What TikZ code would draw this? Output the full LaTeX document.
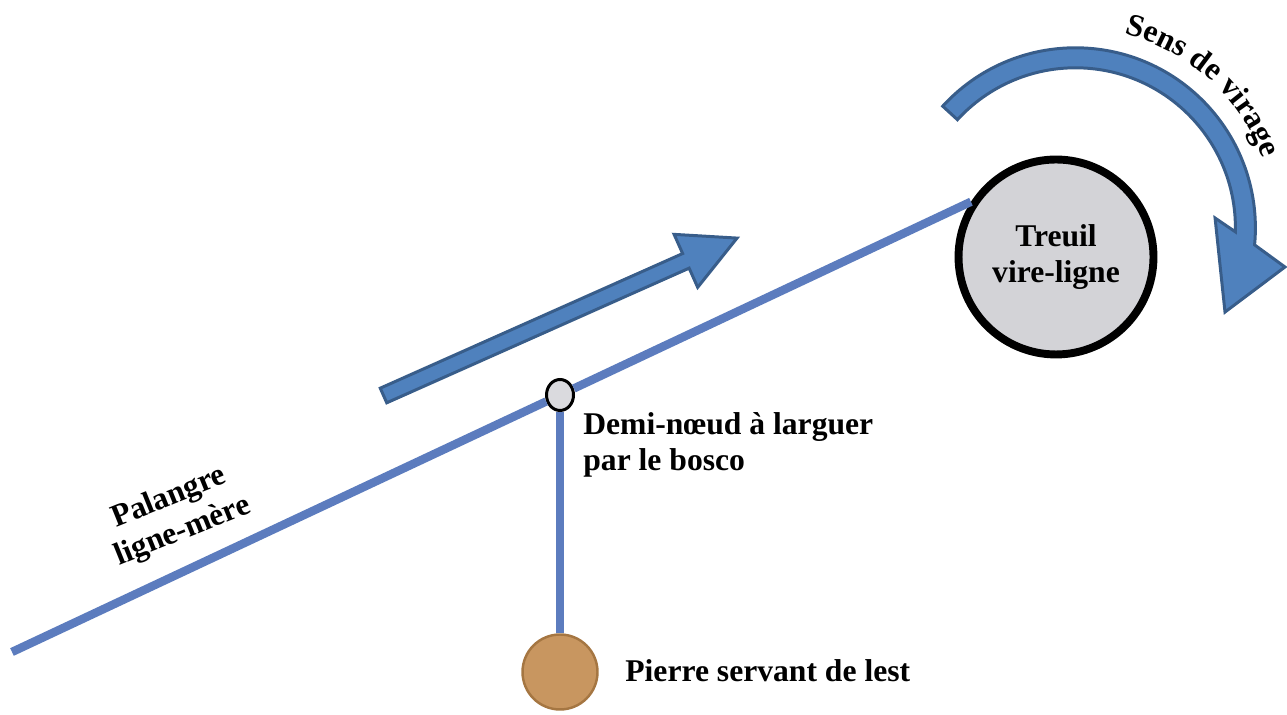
\documentclass[tikz,border=0pt]{standalone}
\usepackage{fontspec}
\setmainfont{Liberation Serif}
\usepackage{xcolor}
\usepackage{tikz}
\usetikzlibrary{arrows.meta, positioning, shapes.geometric, decorations.text}

\definecolor{linecol}{RGB}{92,124,190}
\definecolor{arrowfill}{RGB}{79,129,189}
\definecolor{arrowedge}{RGB}{56,93,138}
\definecolor{winchgrey}{RGB}{211,211,215}
\definecolor{knotgrey}{RGB}{218,218,222}
\definecolor{stonefill}{RGB}{200,150,96}
\definecolor{stoneedge}{RGB}{165,118,66}

\begin{document}
\begin{tikzpicture}[x=0.02cm, y=0.02cm,
    lbl/.style={font=\fontsize{18}{20.5}\selectfont\bfseries, inner sep=0pt},
    rope/.style={draw=linecol, line width=4.8pt},
    blockarrow/.style={fill=arrowfill, draw=arrowedge, line width=1.7pt, line join=miter}]
    \useasboundingbox (0,0) rectangle (1287,715);
    % winch, knot and stone
    \node[circle, draw=black, line width=4.5pt, fill=winchgrey, minimum size=3.9cm,
          align=center, lbl] (treuil) at (1056,458) {Treuil\\vire-ligne};
    \node[ellipse, draw=black, line width=1.7pt, fill=knotgrey, minimum width=0.54cm,
          minimum height=0.62cm, inner sep=0pt] (knot) at (560,320) {};
    \node[circle, draw=stoneedge, line width=1.4pt, fill=stonefill, minimum size=1.5cm,
          inner sep=0pt] (stone) at (560,43) {};
    \coordinate (start) at (12,63);
    % rope
    \draw[rope] (start) -- (knot);
    \draw[rope] (knot) -- (treuil.147);
    \draw[rope, line width=4pt] (knot) -- (stone);
    % labels
    \node[lbl, align=left, anchor=west] (knotlbl) at (583,270.5) {Demi-nœud à larguer\\par le bosco};
    \node[lbl, anchor=base west] (stonelbl) at (625,33) {Pierre servant de lest};
    \node[lbl, align=center, rotate=22] (linelbl) at (176,200) {Palangre\\ligne-mère};
    % hauling direction
    \begin{scope}[shift={(383.5,319.5)}, rotate=24]
        \draw[blockarrow] (0,-8) -- (331,-8) -- (331,-29) -- (387,0) -- (331,29) -- (331,8) -- (0,8) -- cycle;
    \end{scope}
    % turning direction
    \begin{scope}[shift={(1075.4,487.2)}]
        \draw[blockarrow] (137.5:180) arc[start angle=137.5, end angle=-5.45, radius=180]
            -- (-10.6:213.2) -- (-29.4:171.7) -- (4.0:140) -- (-1.45:160)
            arc[start angle=-1.45, end angle=137.5, radius=160] -- cycle;
        \path[decorate, decoration={text along path, text align=center,
            text={|\fontsize{18}{20.5}\selectfont\bfseries|Sens de virage}}]
            (88:200) arc[start angle=88, end angle=8, radius=200];
    \end{scope}
\end{tikzpicture}
\end{document}
